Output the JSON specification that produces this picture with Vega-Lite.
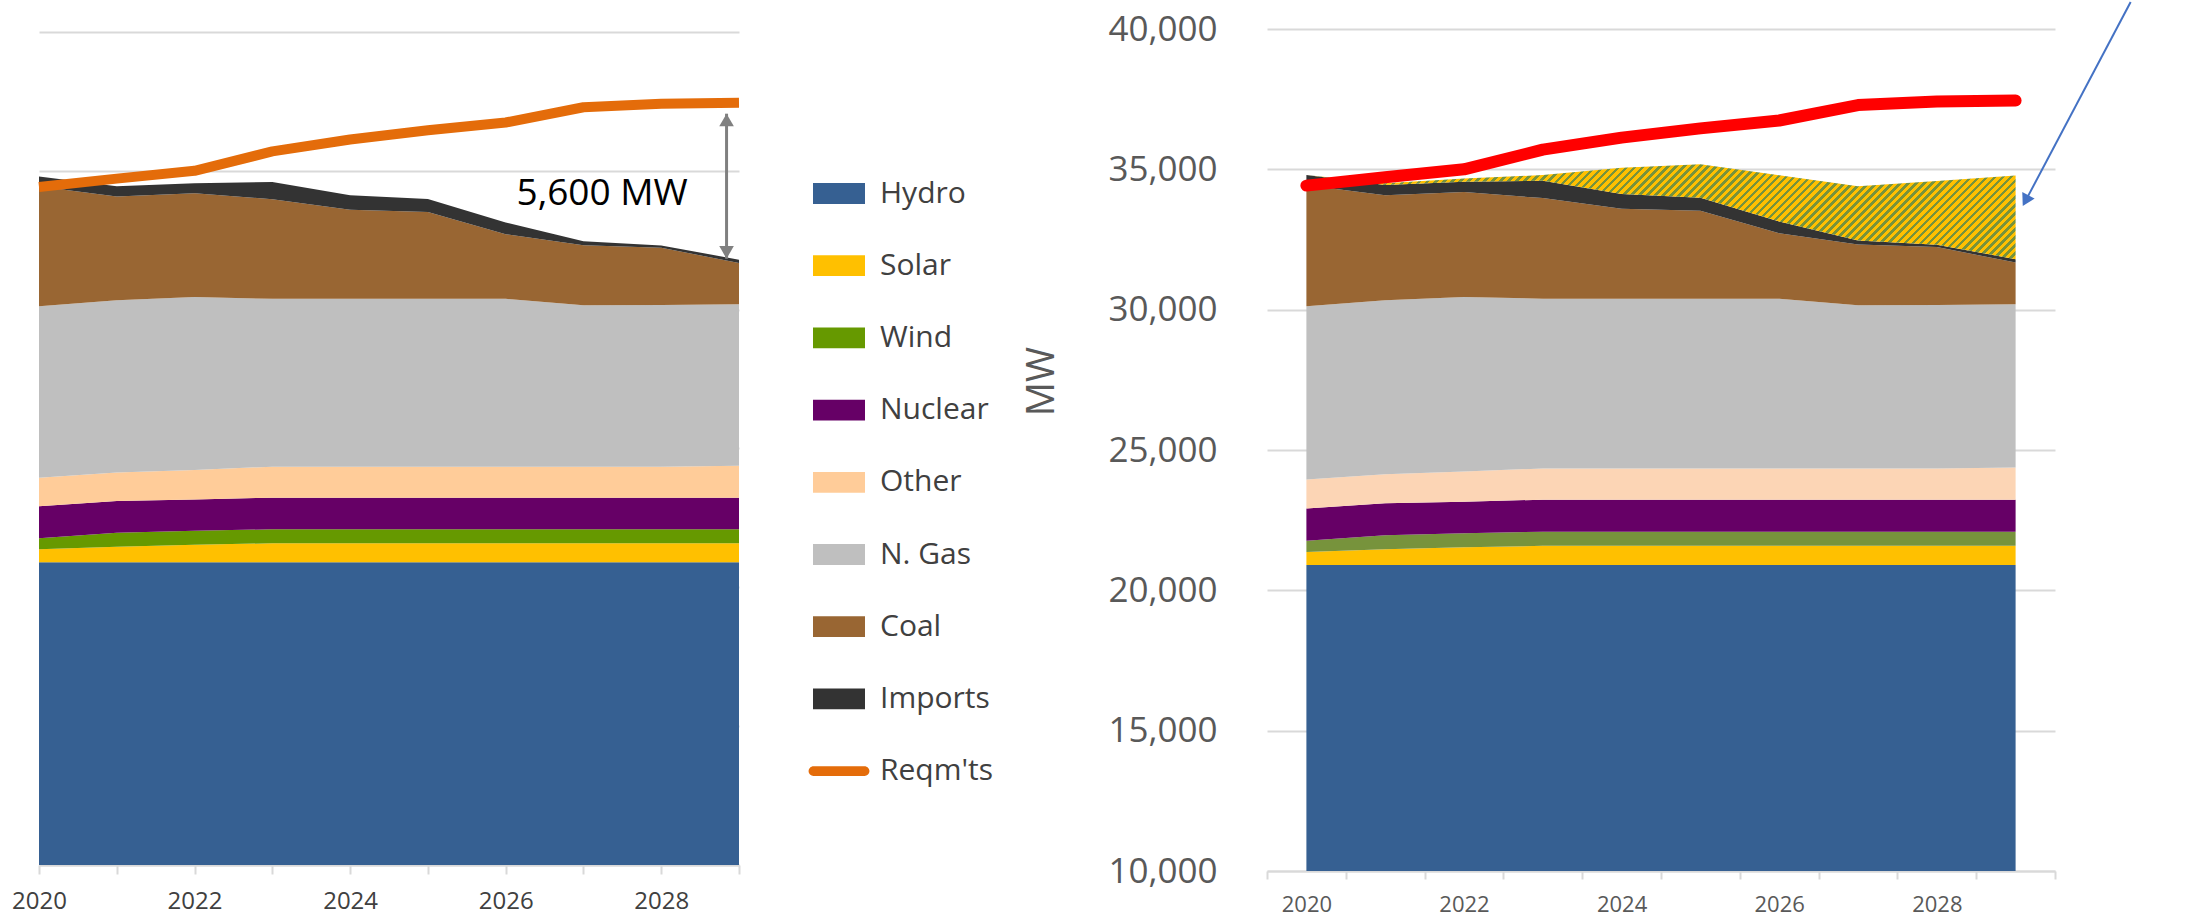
{
"$schema": "https://vega.github.io/schema/vega-lite/v6.json",
"background": "white",
"padding": {"left": 11, "top": 0, "right": 5, "bottom": 2},
"bounds": "flush",
"spacing": 528,
"config": {"view": {"stroke": null}, "font": "Open Sans"},
"resolve": {"scale": {"color": "independent"}, "legend": {"color": "independent"}},
"datasets": {
"gen": [
{"year":2020,"source":"Hydro","rank":1,"mw":20900},{"year":2021,"source":"Hydro","rank":1,"mw":20900},{"year":2022,"source":"Hydro","rank":1,"mw":20900},{"year":2023,"source":"Hydro","rank":1,"mw":20900},{"year":2024,"source":"Hydro","rank":1,"mw":20900},{"year":2025,"source":"Hydro","rank":1,"mw":20900},{"year":2026,"source":"Hydro","rank":1,"mw":20900},{"year":2027,"source":"Hydro","rank":1,"mw":20900},{"year":2028,"source":"Hydro","rank":1,"mw":20900},{"year":2029,"source":"Hydro","rank":1,"mw":20900},
{"year":2020,"source":"Solar","rank":2,"mw":470},{"year":2021,"source":"Solar","rank":2,"mw":565},{"year":2022,"source":"Solar","rank":2,"mw":635},{"year":2023,"source":"Solar","rank":2,"mw":685},{"year":2024,"source":"Solar","rank":2,"mw":685},{"year":2025,"source":"Solar","rank":2,"mw":685},{"year":2026,"source":"Solar","rank":2,"mw":685},{"year":2027,"source":"Solar","rank":2,"mw":685},{"year":2028,"source":"Solar","rank":2,"mw":685},{"year":2029,"source":"Solar","rank":2,"mw":685},
{"year":2020,"source":"Wind","rank":3,"mw":400},{"year":2021,"source":"Wind","rank":3,"mw":500},{"year":2022,"source":"Wind","rank":3,"mw":500},{"year":2023,"source":"Wind","rank":3,"mw":505},{"year":2024,"source":"Wind","rank":3,"mw":505},{"year":2025,"source":"Wind","rank":3,"mw":505},{"year":2026,"source":"Wind","rank":3,"mw":505},{"year":2027,"source":"Wind","rank":3,"mw":505},{"year":2028,"source":"Wind","rank":3,"mw":505},{"year":2029,"source":"Wind","rank":3,"mw":505},
{"year":2020,"source":"Nuclear","rank":4,"mw":1150},{"year":2021,"source":"Nuclear","rank":4,"mw":1140},{"year":2022,"source":"Nuclear","rank":4,"mw":1125},{"year":2023,"source":"Nuclear","rank":4,"mw":1140},{"year":2024,"source":"Nuclear","rank":4,"mw":1140},{"year":2025,"source":"Nuclear","rank":4,"mw":1140},{"year":2026,"source":"Nuclear","rank":4,"mw":1140},{"year":2027,"source":"Nuclear","rank":4,"mw":1140},{"year":2028,"source":"Nuclear","rank":4,"mw":1140},{"year":2029,"source":"Nuclear","rank":4,"mw":1140},
{"year":2020,"source":"Other","rank":5,"mw":1030},{"year":2021,"source":"Other","rank":5,"mw":1030},{"year":2022,"source":"Other","rank":5,"mw":1070},{"year":2023,"source":"Other","rank":5,"mw":1115},{"year":2024,"source":"Other","rank":5,"mw":1115},{"year":2025,"source":"Other","rank":5,"mw":1115},{"year":2026,"source":"Other","rank":5,"mw":1115},{"year":2027,"source":"Other","rank":5,"mw":1115},{"year":2028,"source":"Other","rank":5,"mw":1115},{"year":2029,"source":"Other","rank":5,"mw":1150},
{"year":2020,"source":"N. Gas","rank":6,"mw":6175},{"year":2021,"source":"N. Gas","rank":6,"mw":6200},{"year":2022,"source":"N. Gas","rank":6,"mw":6225},{"year":2023,"source":"N. Gas","rank":6,"mw":6045},{"year":2024,"source":"N. Gas","rank":6,"mw":6045},{"year":2025,"source":"N. Gas","rank":6,"mw":6045},{"year":2026,"source":"N. Gas","rank":6,"mw":6045},{"year":2027,"source":"N. Gas","rank":6,"mw":5815},{"year":2028,"source":"N. Gas","rank":6,"mw":5825},{"year":2029,"source":"N. Gas","rank":6,"mw":5815},
{"year":2020,"source":"Coal","rank":7,"mw":4310},{"year":2021,"source":"Coal","rank":7,"mw":3740},{"year":2022,"source":"Coal","rank":7,"mw":3740},{"year":2023,"source":"Coal","rank":7,"mw":3585},{"year":2024,"source":"Coal","rank":7,"mw":3210},{"year":2025,"source":"Coal","rank":7,"mw":3130},{"year":2026,"source":"Coal","rank":7,"mw":2330},{"year":2027,"source":"Coal","rank":7,"mw":2160},{"year":2028,"source":"Coal","rank":7,"mw":2060},{"year":2029,"source":"Coal","rank":7,"mw":1485},
{"year":2020,"source":"Imports","rank":8,"mw":365},{"year":2021,"source":"Imports","rank":8,"mw":370},{"year":2022,"source":"Imports","rank":8,"mw":360},{"year":2023,"source":"Imports","rank":8,"mw":620},{"year":2024,"source":"Imports","rank":8,"mw":520},{"year":2025,"source":"Imports","rank":8,"mw":470},{"year":2026,"source":"Imports","rank":8,"mw":420},{"year":2027,"source":"Imports","rank":8,"mw":145},{"year":2028,"source":"Imports","rank":8,"mw":85},{"year":2029,"source":"Imports","rank":8,"mw":120},
{"year":2020,"source":"New","rank":9,"mw":0},{"year":2021,"source":"New","rank":9,"mw":60},{"year":2022,"source":"New","rank":9,"mw":120},{"year":2023,"source":"New","rank":9,"mw":200},{"year":2024,"source":"New","rank":9,"mw":940},{"year":2025,"source":"New","rank":9,"mw":1190},{"year":2026,"source":"New","rank":9,"mw":1650},{"year":2027,"source":"New","rank":9,"mw":1930},{"year":2028,"source":"New","rank":9,"mw":2270},{"year":2029,"source":"New","rank":9,"mw":2980}
],
"req": [
{"year":2020,"mw":34420},{"year":2021,"mw":34720},{"year":2022,"mw":35000},{"year":2023,"mw":35700},{"year":2024,"mw":36130},{"year":2025,"mw":36460},{"year":2026,"mw":36740},{"year":2027,"mw":37290},{"year":2028,"mw":37420},{"year":2029,"mw":37450}
]
},
"hconcat": [
{
"width": 700,
"height": 836,
"layer": [
{
"data": {"name": "gen"},
"transform": [{"filter": "datum.source != 'New'"}],
"mark": {"type": "area", "clip": true},
"encoding": {
"x": {"field": "year", "type": "quantitative", "title": null,
"scale": {"domain": [2020, 2029], "nice": false, "zero": false},
"axis": {"values": [2020,2021,2022,2023,2024,2025,2026,2027,2028,2029], "labelExpr": "datum.value % 2 == 0 ? '' + datum.value : ''", "grid": false, "domainColor": "#D9D9D9", "domainWidth": 2, "tickColor": "#D9D9D9", "tickWidth": 2, "tickSize": 9, "labelPadding": 15, "labelFont": "Open Sans", "labelFontSize": 24, "labelColor": "#404040", "labelFlush": false, "labelOverlap": false, "labelBound": false}},
"y": {"field": "mw", "type": "quantitative", "stack": "zero", "title": null,
"scale": {"domain": [10000, 40108], "nice": false, "zero": false},
"axis": {"values": [10000,15000,20000,25000,30000,35000,40000], "labels": false, "ticks": false, "domain": false, "grid": true, "gridColor": "#D9D9D9", "gridWidth": 2, "title": null}},
"color": {"field": "source", "type": "nominal",
"scale": {"domain": ["Hydro","Solar","Wind","Nuclear","Other","N. Gas","Coal","Imports","Reqm'ts"], "range": ["#366092","#FFC000","#669900","#660066","#FFCC99","#BFBFBF","#996633","#333333","#E46C0A"]},
"legend": {"title": null, "orient": "none", "legendX": 774, "legendY": 138.5, "direction": "vertical", "padding": 0, "symbolSize": 2704, "symbolStrokeWidth": 0, "symbolOpacity": 1, "rowPadding": 31.2, "labelOffset": 15, "labelFont": "Open Sans", "labelFontSize": 30, "labelColor": "#404040", "labelLimit": 0,
"encode": {"symbols": {"update": {"shape": {"signal": "datum.value == \"Reqm'ts\" ? 'M-0.98,-0.19H0.98A0.19,0.19 0 0 1 0.98,0.19H-0.98A0.19,0.19 0 0 1 -0.98,-0.19Z' : 'M-1,-0.4H1V0.4H-1Z'"}}}}}},
"order": {"field": "rank", "type": "quantitative", "sort": "ascending"}
}
},
{
"data": {"name": "req"},
"mark": {"type": "line", "color": "#E46C0A", "strokeWidth": 10, "strokeCap": "butt", "strokeJoin": "round"},
"encoding": {"x": {"field": "year", "type": "quantitative", "title": null}, "y": {"field": "mw", "type": "quantitative", "title": null}}
},
{
"data": {"values": [{"year": 2028.84, "top": 37058, "bottom": 31836}]},
"mark": {"type": "rule", "color": "#808080", "strokeWidth": 3},
"encoding": {"x": {"field": "year", "type": "quantitative", "title": null}, "y": {"field": "top", "type": "quantitative", "title": null}, "y2": {"field": "bottom"}}
},
{
"data": {"values": [{"year": 2028.84, "mw": 36831}]},
"mark": {"type": "point", "shape": "triangle-up", "filled": true, "size": 213, "color": "#808080", "opacity": 1, "strokeWidth": 0},
"encoding": {"x": {"field": "year", "type": "quantitative", "title": null}, "y": {"field": "mw", "type": "quantitative", "title": null}}
},
{
"data": {"values": [{"year": 2028.84, "mw": 32062}]},
"mark": {"type": "point", "shape": "triangle-down", "filled": true, "size": 213, "color": "#808080", "opacity": 1, "strokeWidth": 0},
"encoding": {"x": {"field": "year", "type": "quantitative", "title": null}, "y": {"field": "mw", "type": "quantitative", "title": null}}
},
{
"data": {"values": [{"year": 2027.24, "mw": 34166, "label": "5,600 MW"}]},
"mark": {"type": "text", "font": "Open Sans", "fontSize": 37, "color": "#000000", "align": "center", "baseline": "middle"},
"encoding": {"x": {"field": "year", "type": "quantitative", "title": null}, "y": {"field": "mw", "type": "quantitative", "title": null}, "text": {"field": "label"}}
}
]
},
{
"width": 788,
"height": 842,
"layer": [
{
"data": {"name": "gen"},
"transform": [{"filter": "datum.source != 'New'"}],
"mark": {"type": "area", "clip": true},
"encoding": {
"x": {"field": "year", "type": "quantitative", "title": null,
"scale": {"domain": [2019.5, 2029.5], "nice": false, "zero": false},
"axis": {"values": [2019.5,2020.5,2021.5,2022.5,2023.5,2024.5,2025.5,2026.5,2027.5,2028.5,2029.5], "labelExpr": "(datum.value + 0.5) % 2 == 0 && datum.value < 2029 ? '' + (datum.value + 0.5) : ''", "labelOffset": 39.4, "grid": false, "domainColor": "#D9D9D9", "domainWidth": 2, "tickColor": "#D9D9D9", "tickWidth": 2, "tickSize": 8, "labelPadding": 15, "labelFont": "Open Sans", "labelFontSize": 22, "labelColor": "#595959", "labelFlush": false, "labelOverlap": false, "labelBound": false}},
"y": {"field": "mw", "type": "quantitative", "stack": "zero",
"scale": {"domain": [10000, 40000], "nice": false, "zero": false},
"axis": {"values": [10000,15000,20000,25000,30000,35000,40000], "format": ",d", "ticks": false, "tickSize": 0, "domain": false, "grid": true, "gridColor": "#D9D9D9", "gridWidth": 2, "labelPadding": 50, "labelFont": "Open Sans", "labelFontSize": 35, "labelColor": "#595959", "title": "MW", "titleFont": "Open Sans", "titleFontSize": 38, "titleFontWeight": "normal", "titleColor": "#595959", "titleAngle": -90, "titleX": -225, "titleY": 352, "titleAlign": "center", "titleBaseline": "middle"}},
"color": {"field": "source", "type": "nominal",
"scale": {"domain": ["Hydro","Solar","Wind","Nuclear","Other","N. Gas","Coal","Imports"], "range": ["#366092","#FFC000","#77933C","#660066","#FCD5B5","#BFBFBF","#996633","#333333"]},
"legend": null},
"order": {"field": "rank", "type": "quantitative", "sort": "ascending"}
}
},
{
"data": {"name": "gen"},
"transform": [
{"stack": "mw", "groupby": ["year"], "sort": [{"field": "rank", "order": "ascending"}], "as": ["lo", "hi"]},
{"filter": "datum.source == 'New'"}
],
"mark": {"type": "area", "clip": true, "fill": {"gradient": "linear", "x1": 0, "y1": 0, "x2": 1.1138, "y2": 0.149, "stops": [
{"offset":0,"color":"#77933c"},{"offset":0.0045,"color":"#77933c"},{"offset":0.0045,"color":"#ffc000"},{"offset":0.01,"color":"#ffc000"},
{"offset":0.01,"color":"#77933c"},{"offset":0.0145,"color":"#77933c"},{"offset":0.0145,"color":"#ffc000"},{"offset":0.02,"color":"#ffc000"},
{"offset":0.02,"color":"#77933c"},{"offset":0.0245,"color":"#77933c"},{"offset":0.0245,"color":"#ffc000"},{"offset":0.03,"color":"#ffc000"},
{"offset":0.03,"color":"#77933c"},{"offset":0.0345,"color":"#77933c"},{"offset":0.0345,"color":"#ffc000"},{"offset":0.04,"color":"#ffc000"},
{"offset":0.04,"color":"#77933c"},{"offset":0.0445,"color":"#77933c"},{"offset":0.0445,"color":"#ffc000"},{"offset":0.05,"color":"#ffc000"},
{"offset":0.05,"color":"#77933c"},{"offset":0.0545,"color":"#77933c"},{"offset":0.0545,"color":"#ffc000"},{"offset":0.06,"color":"#ffc000"},
{"offset":0.06,"color":"#77933c"},{"offset":0.0645,"color":"#77933c"},{"offset":0.0645,"color":"#ffc000"},{"offset":0.07,"color":"#ffc000"},
{"offset":0.07,"color":"#77933c"},{"offset":0.0745,"color":"#77933c"},{"offset":0.0745,"color":"#ffc000"},{"offset":0.08,"color":"#ffc000"},
{"offset":0.08,"color":"#77933c"},{"offset":0.0845,"color":"#77933c"},{"offset":0.0845,"color":"#ffc000"},{"offset":0.09,"color":"#ffc000"},
{"offset":0.09,"color":"#77933c"},{"offset":0.0945,"color":"#77933c"},{"offset":0.0945,"color":"#ffc000"},{"offset":0.10,"color":"#ffc000"},
{"offset":0.10,"color":"#77933c"},{"offset":0.1045,"color":"#77933c"},{"offset":0.1045,"color":"#ffc000"},{"offset":0.11,"color":"#ffc000"},
{"offset":0.11,"color":"#77933c"},{"offset":0.1145,"color":"#77933c"},{"offset":0.1145,"color":"#ffc000"},{"offset":0.12,"color":"#ffc000"},
{"offset":0.12,"color":"#77933c"},{"offset":0.1245,"color":"#77933c"},{"offset":0.1245,"color":"#ffc000"},{"offset":0.13,"color":"#ffc000"},
{"offset":0.13,"color":"#77933c"},{"offset":0.1345,"color":"#77933c"},{"offset":0.1345,"color":"#ffc000"},{"offset":0.14,"color":"#ffc000"},
{"offset":0.14,"color":"#77933c"},{"offset":0.1445,"color":"#77933c"},{"offset":0.1445,"color":"#ffc000"},{"offset":0.15,"color":"#ffc000"},
{"offset":0.15,"color":"#77933c"},{"offset":0.1545,"color":"#77933c"},{"offset":0.1545,"color":"#ffc000"},{"offset":0.16,"color":"#ffc000"},
{"offset":0.16,"color":"#77933c"},{"offset":0.1645,"color":"#77933c"},{"offset":0.1645,"color":"#ffc000"},{"offset":0.17,"color":"#ffc000"},
{"offset":0.17,"color":"#77933c"},{"offset":0.1745,"color":"#77933c"},{"offset":0.1745,"color":"#ffc000"},{"offset":0.18,"color":"#ffc000"},
{"offset":0.18,"color":"#77933c"},{"offset":0.1845,"color":"#77933c"},{"offset":0.1845,"color":"#ffc000"},{"offset":0.19,"color":"#ffc000"},
{"offset":0.19,"color":"#77933c"},{"offset":0.1945,"color":"#77933c"},{"offset":0.1945,"color":"#ffc000"},{"offset":0.20,"color":"#ffc000"},
{"offset":0.20,"color":"#77933c"},{"offset":0.2045,"color":"#77933c"},{"offset":0.2045,"color":"#ffc000"},{"offset":0.21,"color":"#ffc000"},
{"offset":0.21,"color":"#77933c"},{"offset":0.2145,"color":"#77933c"},{"offset":0.2145,"color":"#ffc000"},{"offset":0.22,"color":"#ffc000"},
{"offset":0.22,"color":"#77933c"},{"offset":0.2245,"color":"#77933c"},{"offset":0.2245,"color":"#ffc000"},{"offset":0.23,"color":"#ffc000"},
{"offset":0.23,"color":"#77933c"},{"offset":0.2345,"color":"#77933c"},{"offset":0.2345,"color":"#ffc000"},{"offset":0.24,"color":"#ffc000"},
{"offset":0.24,"color":"#77933c"},{"offset":0.2445,"color":"#77933c"},{"offset":0.2445,"color":"#ffc000"},{"offset":0.25,"color":"#ffc000"},
{"offset":0.25,"color":"#77933c"},{"offset":0.2545,"color":"#77933c"},{"offset":0.2545,"color":"#ffc000"},{"offset":0.26,"color":"#ffc000"},
{"offset":0.26,"color":"#77933c"},{"offset":0.2645,"color":"#77933c"},{"offset":0.2645,"color":"#ffc000"},{"offset":0.27,"color":"#ffc000"},
{"offset":0.27,"color":"#77933c"},{"offset":0.2745,"color":"#77933c"},{"offset":0.2745,"color":"#ffc000"},{"offset":0.28,"color":"#ffc000"},
{"offset":0.28,"color":"#77933c"},{"offset":0.2845,"color":"#77933c"},{"offset":0.2845,"color":"#ffc000"},{"offset":0.29,"color":"#ffc000"},
{"offset":0.29,"color":"#77933c"},{"offset":0.2945,"color":"#77933c"},{"offset":0.2945,"color":"#ffc000"},{"offset":0.30,"color":"#ffc000"},
{"offset":0.30,"color":"#77933c"},{"offset":0.3045,"color":"#77933c"},{"offset":0.3045,"color":"#ffc000"},{"offset":0.31,"color":"#ffc000"},
{"offset":0.31,"color":"#77933c"},{"offset":0.3145,"color":"#77933c"},{"offset":0.3145,"color":"#ffc000"},{"offset":0.32,"color":"#ffc000"},
{"offset":0.32,"color":"#77933c"},{"offset":0.3245,"color":"#77933c"},{"offset":0.3245,"color":"#ffc000"},{"offset":0.33,"color":"#ffc000"},
{"offset":0.33,"color":"#77933c"},{"offset":0.3345,"color":"#77933c"},{"offset":0.3345,"color":"#ffc000"},{"offset":0.34,"color":"#ffc000"},
{"offset":0.34,"color":"#77933c"},{"offset":0.3445,"color":"#77933c"},{"offset":0.3445,"color":"#ffc000"},{"offset":0.35,"color":"#ffc000"},
{"offset":0.35,"color":"#77933c"},{"offset":0.3545,"color":"#77933c"},{"offset":0.3545,"color":"#ffc000"},{"offset":0.36,"color":"#ffc000"},
{"offset":0.36,"color":"#77933c"},{"offset":0.3645,"color":"#77933c"},{"offset":0.3645,"color":"#ffc000"},{"offset":0.37,"color":"#ffc000"},
{"offset":0.37,"color":"#77933c"},{"offset":0.3745,"color":"#77933c"},{"offset":0.3745,"color":"#ffc000"},{"offset":0.38,"color":"#ffc000"},
{"offset":0.38,"color":"#77933c"},{"offset":0.3845,"color":"#77933c"},{"offset":0.3845,"color":"#ffc000"},{"offset":0.39,"color":"#ffc000"},
{"offset":0.39,"color":"#77933c"},{"offset":0.3945,"color":"#77933c"},{"offset":0.3945,"color":"#ffc000"},{"offset":0.40,"color":"#ffc000"},
{"offset":0.40,"color":"#77933c"},{"offset":0.4045,"color":"#77933c"},{"offset":0.4045,"color":"#ffc000"},{"offset":0.41,"color":"#ffc000"},
{"offset":0.41,"color":"#77933c"},{"offset":0.4145,"color":"#77933c"},{"offset":0.4145,"color":"#ffc000"},{"offset":0.42,"color":"#ffc000"},
{"offset":0.42,"color":"#77933c"},{"offset":0.4245,"color":"#77933c"},{"offset":0.4245,"color":"#ffc000"},{"offset":0.43,"color":"#ffc000"},
{"offset":0.43,"color":"#77933c"},{"offset":0.4345,"color":"#77933c"},{"offset":0.4345,"color":"#ffc000"},{"offset":0.44,"color":"#ffc000"},
{"offset":0.44,"color":"#77933c"},{"offset":0.4445,"color":"#77933c"},{"offset":0.4445,"color":"#ffc000"},{"offset":0.45,"color":"#ffc000"},
{"offset":0.45,"color":"#77933c"},{"offset":0.4545,"color":"#77933c"},{"offset":0.4545,"color":"#ffc000"},{"offset":0.46,"color":"#ffc000"},
{"offset":0.46,"color":"#77933c"},{"offset":0.4645,"color":"#77933c"},{"offset":0.4645,"color":"#ffc000"},{"offset":0.47,"color":"#ffc000"},
{"offset":0.47,"color":"#77933c"},{"offset":0.4745,"color":"#77933c"},{"offset":0.4745,"color":"#ffc000"},{"offset":0.48,"color":"#ffc000"},
{"offset":0.48,"color":"#77933c"},{"offset":0.4845,"color":"#77933c"},{"offset":0.4845,"color":"#ffc000"},{"offset":0.49,"color":"#ffc000"},
{"offset":0.49,"color":"#77933c"},{"offset":0.4945,"color":"#77933c"},{"offset":0.4945,"color":"#ffc000"},{"offset":0.50,"color":"#ffc000"},
{"offset":0.50,"color":"#77933c"},{"offset":0.5045,"color":"#77933c"},{"offset":0.5045,"color":"#ffc000"},{"offset":0.51,"color":"#ffc000"},
{"offset":0.51,"color":"#77933c"},{"offset":0.5145,"color":"#77933c"},{"offset":0.5145,"color":"#ffc000"},{"offset":0.52,"color":"#ffc000"},
{"offset":0.52,"color":"#77933c"},{"offset":0.5245,"color":"#77933c"},{"offset":0.5245,"color":"#ffc000"},{"offset":0.53,"color":"#ffc000"},
{"offset":0.53,"color":"#77933c"},{"offset":0.5345,"color":"#77933c"},{"offset":0.5345,"color":"#ffc000"},{"offset":0.54,"color":"#ffc000"},
{"offset":0.54,"color":"#77933c"},{"offset":0.5445,"color":"#77933c"},{"offset":0.5445,"color":"#ffc000"},{"offset":0.55,"color":"#ffc000"},
{"offset":0.55,"color":"#77933c"},{"offset":0.5545,"color":"#77933c"},{"offset":0.5545,"color":"#ffc000"},{"offset":0.56,"color":"#ffc000"},
{"offset":0.56,"color":"#77933c"},{"offset":0.5645,"color":"#77933c"},{"offset":0.5645,"color":"#ffc000"},{"offset":0.57,"color":"#ffc000"},
{"offset":0.57,"color":"#77933c"},{"offset":0.5745,"color":"#77933c"},{"offset":0.5745,"color":"#ffc000"},{"offset":0.58,"color":"#ffc000"},
{"offset":0.58,"color":"#77933c"},{"offset":0.5845,"color":"#77933c"},{"offset":0.5845,"color":"#ffc000"},{"offset":0.59,"color":"#ffc000"},
{"offset":0.59,"color":"#77933c"},{"offset":0.5945,"color":"#77933c"},{"offset":0.5945,"color":"#ffc000"},{"offset":0.60,"color":"#ffc000"},
{"offset":0.60,"color":"#77933c"},{"offset":0.6045,"color":"#77933c"},{"offset":0.6045,"color":"#ffc000"},{"offset":0.61,"color":"#ffc000"},
{"offset":0.61,"color":"#77933c"},{"offset":0.6145,"color":"#77933c"},{"offset":0.6145,"color":"#ffc000"},{"offset":0.62,"color":"#ffc000"},
{"offset":0.62,"color":"#77933c"},{"offset":0.6245,"color":"#77933c"},{"offset":0.6245,"color":"#ffc000"},{"offset":0.63,"color":"#ffc000"},
{"offset":0.63,"color":"#77933c"},{"offset":0.6345,"color":"#77933c"},{"offset":0.6345,"color":"#ffc000"},{"offset":0.64,"color":"#ffc000"},
{"offset":0.64,"color":"#77933c"},{"offset":0.6445,"color":"#77933c"},{"offset":0.6445,"color":"#ffc000"},{"offset":0.65,"color":"#ffc000"},
{"offset":0.65,"color":"#77933c"},{"offset":0.6545,"color":"#77933c"},{"offset":0.6545,"color":"#ffc000"},{"offset":0.66,"color":"#ffc000"},
{"offset":0.66,"color":"#77933c"},{"offset":0.6645,"color":"#77933c"},{"offset":0.6645,"color":"#ffc000"},{"offset":0.67,"color":"#ffc000"},
{"offset":0.67,"color":"#77933c"},{"offset":0.6745,"color":"#77933c"},{"offset":0.6745,"color":"#ffc000"},{"offset":0.68,"color":"#ffc000"},
{"offset":0.68,"color":"#77933c"},{"offset":0.6845,"color":"#77933c"},{"offset":0.6845,"color":"#ffc000"},{"offset":0.69,"color":"#ffc000"},
{"offset":0.69,"color":"#77933c"},{"offset":0.6945,"color":"#77933c"},{"offset":0.6945,"color":"#ffc000"},{"offset":0.70,"color":"#ffc000"},
{"offset":0.70,"color":"#77933c"},{"offset":0.7045,"color":"#77933c"},{"offset":0.7045,"color":"#ffc000"},{"offset":0.71,"color":"#ffc000"},
{"offset":0.71,"color":"#77933c"},{"offset":0.7145,"color":"#77933c"},{"offset":0.7145,"color":"#ffc000"},{"offset":0.72,"color":"#ffc000"},
{"offset":0.72,"color":"#77933c"},{"offset":0.7245,"color":"#77933c"},{"offset":0.7245,"color":"#ffc000"},{"offset":0.73,"color":"#ffc000"},
{"offset":0.73,"color":"#77933c"},{"offset":0.7345,"color":"#77933c"},{"offset":0.7345,"color":"#ffc000"},{"offset":0.74,"color":"#ffc000"},
{"offset":0.74,"color":"#77933c"},{"offset":0.7445,"color":"#77933c"},{"offset":0.7445,"color":"#ffc000"},{"offset":0.75,"color":"#ffc000"},
{"offset":0.75,"color":"#77933c"},{"offset":0.7545,"color":"#77933c"},{"offset":0.7545,"color":"#ffc000"},{"offset":0.76,"color":"#ffc000"},
{"offset":0.76,"color":"#77933c"},{"offset":0.7645,"color":"#77933c"},{"offset":0.7645,"color":"#ffc000"},{"offset":0.77,"color":"#ffc000"},
{"offset":0.77,"color":"#77933c"},{"offset":0.7745,"color":"#77933c"},{"offset":0.7745,"color":"#ffc000"},{"offset":0.78,"color":"#ffc000"},
{"offset":0.78,"color":"#77933c"},{"offset":0.7845,"color":"#77933c"},{"offset":0.7845,"color":"#ffc000"},{"offset":0.79,"color":"#ffc000"},
{"offset":0.79,"color":"#77933c"},{"offset":0.7945,"color":"#77933c"},{"offset":0.7945,"color":"#ffc000"},{"offset":0.80,"color":"#ffc000"},
{"offset":0.80,"color":"#77933c"},{"offset":0.8045,"color":"#77933c"},{"offset":0.8045,"color":"#ffc000"},{"offset":0.81,"color":"#ffc000"},
{"offset":0.81,"color":"#77933c"},{"offset":0.8145,"color":"#77933c"},{"offset":0.8145,"color":"#ffc000"},{"offset":0.82,"color":"#ffc000"},
{"offset":0.82,"color":"#77933c"},{"offset":0.8245,"color":"#77933c"},{"offset":0.8245,"color":"#ffc000"},{"offset":0.83,"color":"#ffc000"},
{"offset":0.83,"color":"#77933c"},{"offset":0.8345,"color":"#77933c"},{"offset":0.8345,"color":"#ffc000"},{"offset":0.84,"color":"#ffc000"},
{"offset":0.84,"color":"#77933c"},{"offset":0.8445,"color":"#77933c"},{"offset":0.8445,"color":"#ffc000"},{"offset":0.85,"color":"#ffc000"},
{"offset":0.85,"color":"#77933c"},{"offset":0.8545,"color":"#77933c"},{"offset":0.8545,"color":"#ffc000"},{"offset":0.86,"color":"#ffc000"},
{"offset":0.86,"color":"#77933c"},{"offset":0.8645,"color":"#77933c"},{"offset":0.8645,"color":"#ffc000"},{"offset":0.87,"color":"#ffc000"},
{"offset":0.87,"color":"#77933c"},{"offset":0.8745,"color":"#77933c"},{"offset":0.8745,"color":"#ffc000"},{"offset":0.88,"color":"#ffc000"},
{"offset":0.88,"color":"#77933c"},{"offset":0.8845,"color":"#77933c"},{"offset":0.8845,"color":"#ffc000"},{"offset":0.89,"color":"#ffc000"},
{"offset":0.89,"color":"#77933c"},{"offset":0.8945,"color":"#77933c"},{"offset":0.8945,"color":"#ffc000"},{"offset":0.90,"color":"#ffc000"},
{"offset":0.90,"color":"#77933c"},{"offset":0.9045,"color":"#77933c"},{"offset":0.9045,"color":"#ffc000"},{"offset":0.91,"color":"#ffc000"},
{"offset":0.91,"color":"#77933c"},{"offset":0.9145,"color":"#77933c"},{"offset":0.9145,"color":"#ffc000"},{"offset":0.92,"color":"#ffc000"},
{"offset":0.92,"color":"#77933c"},{"offset":0.9245,"color":"#77933c"},{"offset":0.9245,"color":"#ffc000"},{"offset":0.93,"color":"#ffc000"},
{"offset":0.93,"color":"#77933c"},{"offset":0.9345,"color":"#77933c"},{"offset":0.9345,"color":"#ffc000"},{"offset":0.94,"color":"#ffc000"},
{"offset":0.94,"color":"#77933c"},{"offset":0.9445,"color":"#77933c"},{"offset":0.9445,"color":"#ffc000"},{"offset":0.95,"color":"#ffc000"},
{"offset":0.95,"color":"#77933c"},{"offset":0.9545,"color":"#77933c"},{"offset":0.9545,"color":"#ffc000"},{"offset":0.96,"color":"#ffc000"},
{"offset":0.96,"color":"#77933c"},{"offset":0.9645,"color":"#77933c"},{"offset":0.9645,"color":"#ffc000"},{"offset":0.97,"color":"#ffc000"},
{"offset":0.97,"color":"#77933c"},{"offset":0.9745,"color":"#77933c"},{"offset":0.9745,"color":"#ffc000"},{"offset":0.98,"color":"#ffc000"},
{"offset":0.98,"color":"#77933c"},{"offset":0.9845,"color":"#77933c"},{"offset":0.9845,"color":"#ffc000"},{"offset":0.99,"color":"#ffc000"},
{"offset":0.99,"color":"#77933c"},{"offset":0.9945,"color":"#77933c"},{"offset":0.9945,"color":"#ffc000"},{"offset":1,"color":"#ffc000"}
]}},
"encoding": {
"x": {"field": "year", "type": "quantitative"},
"y": {"field": "hi", "type": "quantitative"},
"y2": {"field": "lo"}
}
},
{
"data": {"name": "req"},
"mark": {"type": "line", "color": "#FF0000", "strokeWidth": 12, "strokeCap": "round", "strokeJoin": "round"},
"encoding": {"x": {"field": "year", "type": "quantitative"}, "y": {"field": "mw", "type": "quantitative"}}
},
{
"data": {"values": [{"x1": 2030.46, "y1": 40962, "x2": 2029.127, "y2": 33884}]},
"mark": {"type": "rule", "color": "#4472C4", "strokeWidth": 2},
"encoding": {"x": {"field": "x1", "type": "quantitative"}, "y": {"field": "y1", "type": "quantitative"}, "x2": {"field": "x2"}, "y2": {"field": "y2"}}
},
{
"data": {"values": [{"year": 2029.127, "mw": 33884}]},
"mark": {"type": "point", "shape": "triangle-down", "filled": true, "size": 196, "angle": 28, "color": "#4472C4", "opacity": 1, "strokeWidth": 0},
"encoding": {"x": {"field": "year", "type": "quantitative"}, "y": {"field": "mw", "type": "quantitative"}}
}
]
}
]
}
